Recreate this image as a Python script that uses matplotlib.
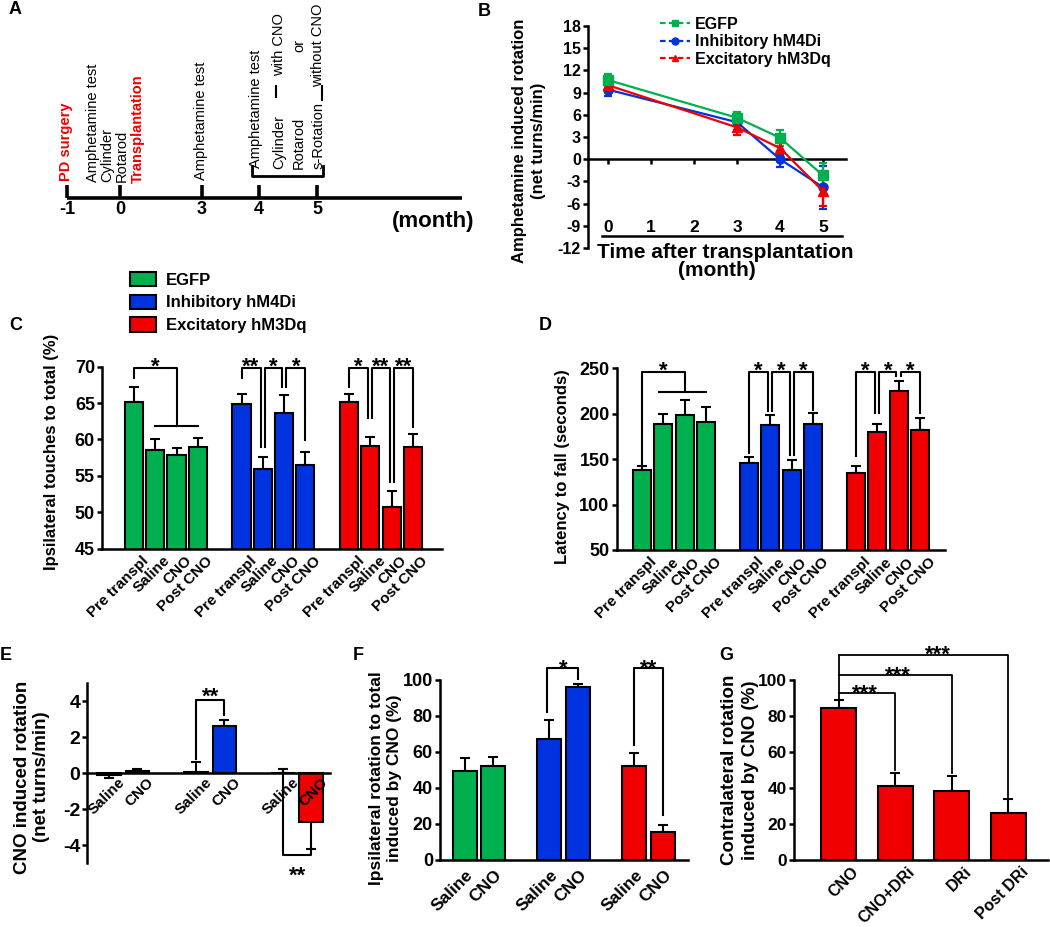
import matplotlib
matplotlib.use("Agg")
import matplotlib.pyplot as plt
from matplotlib.lines import Line2D
from matplotlib.patches import Patch
from matplotlib.transforms import ScaledTranslation, offset_copy

plt.rcParams['font.family'] = ['Liberation Sans', 'DejaVu Sans']
plt.rcParams['font.weight'] = 'bold'
plt.rcParams['axes.unicode_minus'] = False
plt.rcParams['axes.linewidth'] = 1.8
plt.rcParams['xtick.major.width'] = 1.8
plt.rcParams['ytick.major.width'] = 1.8
plt.rcParams['xtick.major.size'] = 3.6
plt.rcParams['ytick.major.size'] = 3.6

W, H = 1050, 927
GREEN, BLUE, RED = '#00B04F', '#0033E0', '#F00000'

# ---------------- data ----------------
groups = ['EGFP', 'Inhibitory hM4Di', 'Excitatory hM3Dq']
colors = [GREEN, BLUE, RED]

# A: timeline
timeline_months = ['-1', '0', '3', '4', '5']

# B: amphetamine induced rotation
months = [0, 3, 4, 5]
month_ticks = [0, 1, 2, 3, 4, 5]
amph_egfp = [10.7, 5.6, 2.9, -2.2]
amph_egfp_err = [0.8, 0.8, 1.1, 1.7]
amph_hm4di = [9.4, 5.0, 0.0, -3.8]
amph_hm4di_err = [0.8, 1.1, 1.1, 2.9]
amph_hm3dq = [10.0, 4.3, 1.5, -4.3]
amph_hm3dq_err = [0.6, 1.0, 0.9, 2.0]

# C: cylinder test
treat_labels = ['Pre transpl', 'Saline', 'CNO', 'Post CNO']
cyl_egfp = [65.2, 58.5, 57.9, 59.0]
cyl_egfp_err = [2.0, 1.6, 0.9, 1.2]
cyl_hm4di = [64.9, 56.0, 63.7, 56.5]
cyl_hm4di_err = [1.3, 1.6, 2.4, 1.8]
cyl_hm3dq = [65.2, 59.1, 50.7, 59.0]
cyl_hm3dq_err = [1.0, 1.3, 2.2, 1.7]

# D: rotarod
rr_egfp = [137.9, 189.0, 198.9, 190.9]
rr_egfp_err = [5, 11, 16, 16]
rr_hm4di = [145.6, 187.2, 137.6, 188.3]
rr_hm4di_err = [6.5, 11, 11.6, 12]
rr_hm3dq = [134.7, 179.6, 224.5, 182.5]
rr_hm3dq_err = [7.3, 9, 11, 13]

# E: CNO induced rotation
sc_labels = ['Saline', 'CNO']
rot_egfp = [-0.1, 0.1]
rot_egfp_err = [0.15, 0.12]
rot_hm4di = [0.05, 2.62]
rot_hm4di_err = [0.55, 0.31]
rot_hm3dq = [0.02, -2.73]
rot_hm3dq_err = [0.2, 1.5]

# F: ipsilateral rotation
ipsi_egfp = [49.6, 52.2]
ipsi_egfp_err = [6.9, 5.2]
ipsi_hm4di = [67.2, 96.3]
ipsi_hm4di_err = [10.6, 1.5]
ipsi_hm3dq = [52.2, 15.7]
ipsi_hm3dq_err = [7.4, 3.7]

# G: contralateral rotation with DRi
dri_labels = ['CNO', 'CNO+DRi', 'DRi', 'Post DRi']
contra = [84.6, 41.3, 38.3, 26.3]
contra_err = [4.3, 7.2, 8.4, 7.8]

fig = plt.figure(figsize=(W / 100, H / 100), dpi=100)


def px_axes(x0, y0, x1, y1):
    ax = fig.add_axes([x0 / W, 1 - y1 / H, (x1 - x0) / W, (y1 - y0) / H])
    ax.spines['top'].set_visible(False)
    ax.spines['right'].set_visible(False)
    ax.set_axisbelow(False)
    return ax


def ftext(x, y, s, **kw):
    kw.setdefault('ha', 'center')
    kw.setdefault('va', 'center')
    kw.setdefault('fontweight', 'bold')
    fig.text(x / W, 1 - y / H, s, **kw)


def shift_labels(ax, dx):
    off = ScaledTranslation(dx / 100, 0, fig.dpi_scale_trans)
    for t in ax.get_xticklabels():
        t.set_transform(t.get_transform() + off)


def bar_groups(ax, series, errs, gap, width):
    ticks = []
    for g, (vals, ee, col) in enumerate(zip(series, errs, colors)):
        pos = [g * gap + i for i in range(len(vals))]
        lo = [e if v < 0 else 0 for v, e in zip(vals, ee)]
        hi = [0 if v < 0 else e for v, e in zip(vals, ee)]
        ax.errorbar(pos, vals, yerr=[lo, hi], fmt='none', ecolor='black',
                    elinewidth=1.5, capsize=3.5, capthick=1.5, zorder=1.5)
        ax.bar(pos, vals, width, color=col, edgecolor='black', linewidth=1.5, zorder=2)
        ticks += pos
    return ticks


def bracket(ax, xa, xb, ya, yb, top, lw=1.5):
    ax.plot([xa, xa, xb, xb], [ya, top, top, yb], color='black', lw=lw,
            clip_on=False, zorder=4)


def stars(ax, x, y, s, fs=16):
    tr = offset_copy(ax.transData, fig=fig, y=-0.58 * fs, units='points')
    ax.text(x, y, s, transform=tr, ha='center', va='baseline', fontsize=fs,
            fontweight='bold', clip_on=False)


# ---------------- A: timeline ----------------
axA = fig.add_axes([0, 1 - 240 / H, 480 / W, 240 / H])
axA.set_xlim(0, 480)
axA.set_ylim(240, 0)
axA.axis('off')
tl_x = [67, 120, 202, 259, 317]
axA.plot([67, 462], [198, 198], color='black', lw=2.6, solid_capstyle='butt')
for x, m in zip(tl_x, timeline_months):
    axA.plot([x, x], [185, 198], color='black', lw=2.6, solid_capstyle='butt')
    axA.text(x, 209, m, ha='center', va='center', fontsize=13, fontweight='bold')
axA.text(433, 222, '(month)', ha='center', va='center', fontsize=16, fontweight='bold')
vt = dict(rotation=90, ha='center', va='bottom', fontsize=10.5, fontweight='normal')
axA.text(66, 181, 'PD surgery', color=RED, rotation=90, ha='center', va='bottom',
         fontsize=10.5, fontweight='bold')
axA.text(107.5, 182, 'Amphetamine test\nCylinder\nRotarod', multialignment='left',
         linespacing=1.04, **vt)
axA.text(138, 183, 'Transplantation', color=RED, rotation=90, ha='center', va='bottom',
         fontsize=10.5, fontweight='bold')
axA.text(201, 180, 'Amphetamine test', **vt)
axA.text(256, 168, 'Amphetamine test', **vt)
axA.text(299, 169, 'Cylinder\nRotarod\ns-Rotation', multialignment='left',
         linespacing=1.5, **vt)
vt2 = dict(vt, va='center')
axA.text(299, 45, 'with CNO\nor\nwithout CNO', multialignment='center',
         linespacing=1.5, **vt2)
axA.plot([252, 252, 323, 323], [166, 176, 176, 166], color='black', lw=2)
axA.plot([276, 276], [86, 97], color='black', lw=1.5)
axA.plot([322, 322], [86, 100], color='black', lw=1.5)

# ---------------- B: line plot ----------------
axB = px_axes(588, 26, 846, 248)
axB.set_xlim(-0.465, 5.535)
axB.set_ylim(-12, 18)
axB.spines['bottom'].set_position(('data', 0))
axB.set_yticks(range(-12, 19, 3))
axB.set_xticks(month_ticks)
axB.set_xticklabels([])
axB.tick_params(axis='both', labelsize=11.5, pad=1.5)
for m in month_ticks:
    axB.text(m, -9.2, str(m), ha='center', va='center', fontsize=12.5, fontweight='bold')
axB.plot([-0.14, 5.44], [-10.4, -10.4], color='black', lw=1.8, clip_on=False)
b_series = [(amph_hm4di, amph_hm4di_err, BLUE, 'o'),
            (amph_hm3dq, amph_hm3dq_err, RED, '^'),
            (amph_egfp, amph_egfp_err, GREEN, 's')]
for vals, ee, col, mk in b_series:
    axB.errorbar(months, vals, yerr=ee, color=col, marker=mk, ms=6.5, lw=1.6,
                 elinewidth=1.6, capsize=3, capthick=1.6, clip_on=False, zorder=3)
b_handles = [Line2D([0], [0], color=c, marker=m, ms=5, lw=1.6, ls=(0, (2.5, 1.5)))
             for c, m in zip(colors, ['s', 'o', '^'])]
fig.legend(b_handles, groups, loc='upper left', bbox_to_anchor=(660 / W, 1 - 17 / H),
           frameon=False, fontsize=11.5, handlelength=1.9, handletextpad=0.3,
           labelspacing=0.15, borderaxespad=0, borderpad=0)
ftext(529, 141, 'Amphetamine induced rotation\n(net turns/min)', rotation=90,
      fontsize=12, linespacing=1.3)
ftext(725, 253, 'Time after transplantation', fontsize=15)
ftext(717, 271, '(month)', fontsize=15)

# ---------------- C: cylinder ----------------
axC = px_axes(102, 366.7, 441.7, 548.7)
cp = bar_groups(axC, [cyl_egfp, cyl_hm4di, cyl_hm3dq],
                [cyl_egfp_err, cyl_hm4di_err, cyl_hm3dq_err], 5.05, 0.85)
axC.set_xlim(-1.5, 14.45)
axC.set_ylim(45, 70)
axC.set_yticks(range(45, 71, 5))
axC.tick_params(axis='y', labelsize=13, pad=1.5)
axC.tick_params(axis='x', length=0, pad=3.5)
axC.set_xticks(cp, treat_labels * 3, rotation=45, ha='right', rotation_mode='anchor',
               fontsize=11)
shift_labels(axC, 8)
d = 0.1
top = 69.86
bracket(axC, cp[0], cp[2], 68.4, 61.9, top)
axC.plot([cp[1], cp[3]], [61.9, 61.9], color='black', lw=1.5)
stars(axC, cp[1], 70.9, '*')
for a, b, ya, yb, s in [(cp[4], cp[5] - d, 68.4, 59.0, '**'),
                        (cp[5] + d, cp[6] - d, 59.0, 67.2, '*'),
                        (cp[6] + d, cp[7], 67.2, 59.9, '*'),
                        (cp[8], cp[9] - d, 67.2, 62.9, '*'),
                        (cp[9] + d, cp[10] - d, 62.9, 54.2, '**'),
                        (cp[10] + d, cp[11], 54.2, 61.7, '**')]:
    bracket(axC, a, b, ya, yb, top)
    stars(axC, (a + b) / 2, 70.9, s)
ftext(52, 452, 'Ipsilateral touches to total (%)', rotation=90, fontsize=12)
fig.legend([Patch(facecolor=c, edgecolor='black', linewidth=1.5) for c in colors], groups,
           loc='upper left', bbox_to_anchor=(130 / W, 1 - 272 / H), frameon=False,
           fontsize=12, handlelength=1.55, handleheight=0.95, handletextpad=0.6,
           labelspacing=0.4, borderaxespad=0, borderpad=0)

# ---------------- D: rotarod ----------------
axD = px_axes(616.7, 368.3, 945, 550)
dp = bar_groups(axD, [rr_egfp, rr_hm4di, rr_hm3dq],
                [rr_egfp_err, rr_hm4di_err, rr_hm3dq_err], 4.97, 0.84)
axD.set_xlim(-1.17, 14.1)
axD.set_ylim(50, 250)
axD.set_yticks(range(50, 251, 50))
axD.tick_params(axis='y', labelsize=13, pad=1.5)
axD.tick_params(axis='x', length=0, pad=3.5)
axD.set_xticks(dp, treat_labels * 3, rotation=45, ha='right', rotation_mode='anchor',
               fontsize=11)
shift_labels(axD, 8)
top = 246.4
bracket(axD, dp[0], dp[2], 144.2, 223.7, top)
axD.plot([dp[1] - 0.2, dp[3]], [223.7, 223.7], color='black', lw=1.5)
stars(axD, dp[1], 254.5, '*')
for a, b, ya, yb in [(dp[4], dp[5] - d, 156.9, 202.5),
                     (dp[5] + d, dp[6] - d, 202.5, 155.1),
                     (dp[6] + d, dp[7], 155.1, 203.6),
                     (dp[8], dp[9] - d, 153.3, 200.7),
                     (dp[9] + d, dp[10] - d, 200.7, 241.6),
                     (dp[10] + d, dp[11], 241.6, 200.7)]:
    bracket(axD, a, b, ya, yb, top)
    stars(axD, (a + b) / 2, 254.5, '*')
ftext(562, 467, 'Latency to fall (seconds)', rotation=90, fontsize=12)

# ---------------- E: CNO rotation ----------------
axE = px_axes(87.3, 683, 330, 863)
ep = bar_groups(axE, [rot_egfp, rot_hm4di, rot_hm3dq],
                [rot_egfp_err, rot_hm4di_err, rot_hm3dq_err], 3.05, 0.84)
axE.set_xlim(-0.76, 7.75)
axE.set_ylim(-5, 5)
axE.spines['bottom'].set_position(('data', 0))
axE.set_yticks([-4, -2, 0, 2, 4])
axE.tick_params(axis='y', labelsize=14, pad=1.5)
axE.tick_params(axis='x', length=0, pad=1.5)
axE.set_xticks(ep, sc_labels * 3, rotation=45, ha='right', rotation_mode='anchor',
               fontsize=11)
shift_labels(axE, 9)
bracket(axE, ep[2], ep[3], 0.78, 3.21, 4.06)
stars(axE, (ep[2] + ep[3]) / 2, 4.6, '**')
bracket(axE, ep[4], ep[5], 0.22, -4.22, -4.54)
stars(axE, (ep[4] + ep[5]) / 2, -5.3, '**')
ftext(32, 777, 'CNO induced rotation\n(net turns/min)', rotation=90, fontsize=13.5)

# ---------------- F: ipsilateral rotation ----------------
axF = px_axes(440, 680, 688, 860)
fp = bar_groups(axF, [ipsi_egfp, ipsi_hm4di, ipsi_hm3dq],
                [ipsi_egfp_err, ipsi_hm4di_err, ipsi_hm3dq_err], 3.0, 0.85)
axF.set_xlim(-0.87, 7.9)
axF.set_ylim(0, 100)
axF.set_yticks(range(0, 101, 20))
axF.tick_params(axis='y', labelsize=13, pad=1.5)
axF.tick_params(axis='x', length=0, pad=5)
axF.set_xticks(fp, sc_labels * 3, rotation=45, ha='right', rotation_mode='anchor',
               fontsize=12.5)
shift_labels(axF, 1)
bracket(axF, fp[2] - 0.07, fp[3], 82.4, 100.5, 106.9)
stars(axF, (fp[2] + fp[3]) / 2, 110.2, '*')
bracket(axF, fp[4], fp[5], 63.9, 25.0, 106.5)
stars(axF, (fp[4] + fp[5]) / 2, 110.2, '**')
ftext(386, 778, 'Ipsilateral rotation to total\ninduced by CNO (%)', rotation=90,
      fontsize=12.5, linespacing=1.25)

# ---------------- G: contralateral rotation ----------------
axG = px_axes(794, 680, 1048, 860)
gp = list(range(len(contra)))
axG.errorbar(gp, contra, yerr=[[0] * len(contra), contra_err], fmt='none', ecolor='black',
             elinewidth=1.5, capsize=3.5, capthick=1.5, zorder=1.5)
axG.bar(gp, contra, 0.62, color=RED, edgecolor='black', linewidth=1.5, zorder=2)
axG.set_xlim(-0.79, 3.70)
axG.set_ylim(0, 100)
axG.set_yticks(range(0, 101, 20))
axG.tick_params(axis='y', labelsize=12.5, pad=1.5)
axG.tick_params(axis='x', length=0, pad=3)
axG.set_xticks(gp, dri_labels, rotation=45, ha='right', rotation_mode='anchor',
               fontsize=11.5)
shift_labels(axG, 12)
axG.plot([gp[0], gp[0]], [88.9, 113.9], color='black', lw=1.3, clip_on=False)
for j, t, bt, lx, ly in [(3, 113.9, 35.2, 1.76, 117.6),
                         (2, 102.8, 48.1, 1.05, 106.4),
                         (1, 92.6, 50.0, 0.47, 96.2)]:
    axG.plot([gp[0], gp[j], gp[j]], [t, t, bt], color='black', lw=1.3, clip_on=False)
    stars(axG, lx, ly, '***')
ftext(740, 770, 'Contralateral rotation\ninduced by CNO (%)', rotation=90, fontsize=13.5,
      linespacing=1.3)

# ---------------- panel letters ----------------
for x, y, s in [(15, 9, 'A'), (484, 11, 'B'), (16, 325, 'C'), (545, 325, 'D'),
                (6, 655, 'E'), (358, 656, 'F'), (726, 655, 'G')]:
    ftext(x, y, s, fontsize=13)

fig.savefig('out.png', dpi=100)
